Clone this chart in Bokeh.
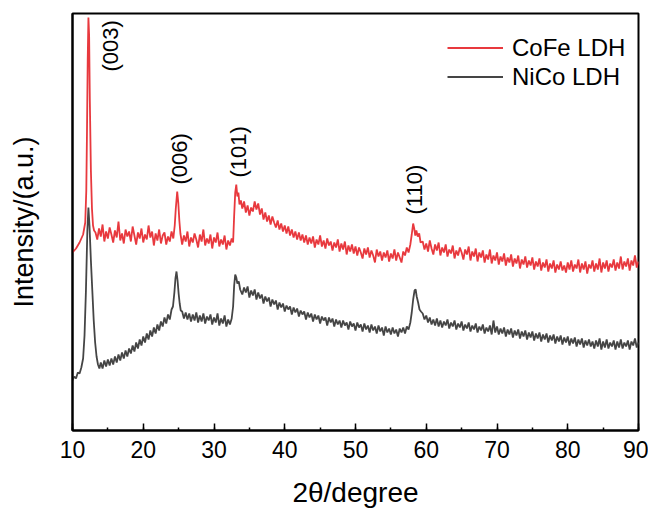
import math
from bokeh.plotting import figure
from bokeh.models import Range1d, SingleIntervalTicker, Legend, LegendItem, FixedTicker
from bokeh.core.properties import value
from bokeh.embed import file_html
from bokeh.resources import INLINE

FONT = "Liberation Sans"

# ---------------- data: 2theta (degree) and intensity (a.u.) ----------------
# CoFe LDH
cofe_x_a = [10.0, 10.5, 11.0, 11.5, 11.8, 11.95, 12.05, 12.15, 12.25, 12.35, 12.45, 12.6, 12.75, 12.9, 13.05]
cofe_y_a = [178, 182, 188, 196, 208, 240, 300, 370, 413, 395, 330, 260, 222, 205, 200]

cofe_x_b = [13.25, 13.5, 13.75, 14.0, 14.25, 14.5, 14.75, 15.0,
            15.25, 15.5, 15.75, 16.0, 16.25, 16.5, 16.75, 17.0,
            17.25, 17.5, 17.75, 18.0, 18.25, 18.5, 18.75, 19.0,
            19.25, 19.5, 19.75, 20.0, 20.25, 20.5, 20.75, 21.0,
            21.25, 21.5, 21.75, 22.0, 22.25, 22.5, 22.75, 23.0,
            23.25, 23.5, 23.75, 24.0, 24.25]
cofe_y_b = [198, 191, 202, 194, 206, 189, 199, 192,
            203, 196, 188, 200, 193, 209, 190, 197,
            187, 201, 194, 199, 189, 204, 195, 186,
            198, 192, 202, 188, 196, 191, 205, 193,
            199, 185, 197, 190, 201, 187, 195, 198,
            186, 194, 189, 199, 192]

cofe_x_c = [24.45, 24.6, 24.8, 24.95, 25.1, 25.25]
cofe_y_c = [205, 222, 239, 228, 210, 197]

cofe_x_d = [25.5, 25.75, 26.0, 26.25, 26.5, 26.75, 27.0, 27.25,
            27.5, 27.75, 28.0, 28.25, 28.5, 28.75, 29.0, 29.25,
            29.5, 29.75, 30.0, 30.25, 30.5, 30.75, 31.0, 31.25,
            31.5, 31.75, 32.0, 32.25, 32.5]
cofe_y_d = [186, 195, 189, 199, 184, 193, 188, 197,
            191, 183, 196, 189, 201, 185, 192, 187,
            196, 182, 193, 188, 198, 184, 191, 186,
            195, 181, 190, 185, 192]

cofe_x_e = [32.7, 32.85, 33.0, 33.15, 33.3, 33.45, 33.6, 33.8]
cofe_y_e = [188, 215, 238, 246, 234, 238, 226, 230]

cofe_x_f = [34.0, 34.25, 34.5, 34.75, 35.0, 35.25, 35.5, 35.75,
            36.0, 36.25, 36.5, 36.75, 37.0, 37.25, 37.5, 37.75,
            38.0, 38.25, 38.5, 38.75, 39.0, 39.25, 39.5, 39.75,
            40.0, 40.25, 40.5, 40.75, 41.0, 41.25, 41.5, 41.75,
            42.0, 42.25, 42.5, 42.75, 43.0, 43.25, 43.5, 43.75,
            44.0, 44.25, 44.5, 44.75, 45.0, 45.25, 45.5, 45.75,
            46.0, 46.25, 46.5, 46.75, 47.0, 47.25, 47.5, 47.75,
            48.0, 48.25, 48.5, 48.75, 49.0, 49.25, 49.5, 49.75,
            50.0, 50.25, 50.5, 50.75, 51.0, 51.25, 51.5, 51.75,
            52.0, 52.25, 52.5, 52.75, 53.0, 53.25, 53.5, 53.75,
            54.0, 54.25, 54.5, 54.75, 55.0, 55.25, 55.5, 55.75,
            56.0, 56.25, 56.5, 56.75, 57.0, 57.25, 57.5]
cofe_y_f = [222, 229, 218, 225, 215, 223, 219, 229,
            221, 227, 216, 222, 211, 218, 209, 215,
            206, 214, 208, 203, 210, 201, 207, 199,
            205, 197, 204, 195, 201, 193, 199, 191,
            198, 190, 196, 188, 195, 186, 193, 187,
            194, 183, 191, 186, 195, 184, 190, 182,
            192, 185, 189, 180, 188, 183, 191, 179,
            187, 181, 189, 176, 185, 179, 186, 177,
            184, 175, 183, 178, 172, 182, 176, 183,
            173, 180, 175, 168, 181, 174, 179, 170,
            178, 173, 180, 169, 177, 172, 181, 170,
            178, 173, 168, 179, 175, 183, 178]

cofe_x_g = [57.75, 57.95, 58.15, 58.3, 58.45, 58.6, 58.8, 59.0, 59.2]
cofe_y_g = [186, 196, 207, 202, 195, 200, 194, 197, 188]

cofe_x_h = [59.5, 59.75, 60.0, 60.25, 60.5, 60.75, 61.0, 61.25,
            61.5, 61.75, 62.0, 62.25, 62.5, 62.75, 63.0, 63.25,
            63.5, 63.75, 64.0, 64.25, 64.5, 64.75, 65.0, 65.25,
            65.5, 65.75, 66.0, 66.25, 66.5, 66.75, 67.0, 67.25,
            67.5, 67.75, 68.0, 68.25, 68.5, 68.75, 69.0, 69.25,
            69.5, 69.75, 70.0, 70.25, 70.5, 70.75, 71.0, 71.25,
            71.5, 71.75, 72.0, 72.25, 72.5, 72.75, 73.0, 73.25,
            73.5, 73.75, 74.0, 74.25, 74.5, 74.75, 75.0, 75.25,
            75.5, 75.75, 76.0, 76.25, 76.5, 76.75, 77.0, 77.25,
            77.5, 77.75, 78.0, 78.25, 78.5, 78.75, 79.0, 79.25,
            79.5, 79.75, 80.0, 80.25, 80.5, 80.75, 81.0, 81.25,
            81.5, 81.75, 82.0, 82.25, 82.5, 82.75, 83.0, 83.25,
            83.5, 83.75, 84.0, 84.25, 84.5, 84.75, 85.0, 85.25,
            85.5, 85.75, 86.0, 86.25, 86.5, 86.75, 87.0, 87.25,
            87.5, 87.75, 88.0, 88.25, 88.5, 88.75, 89.0, 89.25,
            89.5, 89.75, 90.0]
cofe_y_h = [189, 181, 187, 179, 190, 182, 176, 186,
            180, 188, 175, 183, 178, 186, 174, 181,
            177, 185, 172, 180, 175, 183, 178, 171,
            181, 176, 184, 170, 179, 174, 182, 169,
            178, 173, 180, 168, 176, 171, 181, 167,
            175, 170, 178, 166, 174, 169, 177, 165,
            173, 168, 176, 164, 172, 167, 175, 162,
            171, 166, 174, 163, 170, 165, 173, 161,
            169, 164, 172, 160, 168, 163, 171, 159,
            167, 162, 170, 158, 166, 161, 169, 160,
            165, 158, 168, 161, 170, 159, 166, 162,
            171, 158, 167, 161, 169, 157, 166, 162,
            170, 159, 167, 161, 172, 158, 168, 162,
            170, 159, 167, 163, 171, 160, 168, 162,
            174, 161, 169, 164, 172, 160, 170, 165,
            175, 163, 169]

# NiCo LDH
nico_x_a = [10.0, 10.25, 10.5, 10.75, 11.0, 11.25, 11.5, 11.7, 11.9, 12.1, 12.25, 12.4,
            12.6, 12.8, 13.0, 13.2, 13.4, 13.6, 13.8]
nico_y_a = [50, 54, 52, 58, 57, 63, 72, 95, 140, 200, 223, 205,
            170, 140, 110, 88, 74, 66, 62]

nico_x_b = [14.0, 14.25, 14.5, 14.75, 15.0, 15.25, 15.5, 15.75,
            16.0, 16.25, 16.5, 16.75, 17.0, 17.25, 17.5, 17.75,
            18.0, 18.25, 18.5, 18.75, 19.0, 19.25, 19.5, 19.75,
            20.0, 20.25, 20.5, 20.75, 21.0, 21.25, 21.5, 21.75,
            22.0, 22.25, 22.5, 22.75, 23.0, 23.25, 23.5, 23.75,
            24.0]
nico_y_b = [68, 62, 70, 64, 71, 65, 72, 66,
            74, 68, 76, 70, 78, 72, 80, 74,
            82, 77, 85, 79, 88, 82, 91, 85,
            94, 88, 97, 91, 100, 94, 103, 97,
            106, 100, 109, 104, 113, 107, 116, 111,
            121]

nico_x_c = [24.2, 24.4, 24.55, 24.7, 24.85, 25.0, 25.15, 25.3]
nico_y_c = [124, 138, 152, 159, 150, 137, 127, 120]

nico_x_d = [25.5, 25.75, 26.0, 26.25, 26.5, 26.75, 27.0, 27.25,
            27.5, 27.75, 28.0, 28.25, 28.5, 28.75, 29.0, 29.25,
            29.5, 29.75, 30.0, 30.25, 30.5, 30.75, 31.0, 31.25,
            31.5, 31.75, 32.0, 32.25, 32.5]
nico_y_d = [119, 112, 118, 111, 117, 109, 116, 110,
            118, 108, 115, 109, 117, 107, 114, 110,
            116, 106, 113, 108, 117, 105, 112, 107,
            115, 104, 111, 106, 112]

nico_x_e = [32.7, 32.85, 33.0, 33.15, 33.3, 33.5, 33.7]
nico_y_e = [124, 145, 156, 153, 147, 149, 141]

nico_x_f = cofe_x_f  # same scan positions, 34.0 ... 57.5
nico_y_f = [136, 143, 138, 144, 133, 140, 135, 141,
            131, 138, 132, 136, 127, 134, 129, 133,
            124, 131, 126, 130, 121, 128, 123, 127,
            119, 125, 121, 124, 116, 123, 118, 122,
            114, 120, 116, 119, 111, 118, 113, 117,
            109, 116, 111, 115, 107, 114, 110, 113,
            105, 113, 108, 112, 104, 111, 106, 110,
            103, 110, 105, 108, 101, 109, 104, 107,
            100, 108, 103, 106, 99, 107, 101, 105,
            98, 106, 100, 104, 97, 105, 99, 103,
            95, 104, 98, 102, 96, 103, 97, 101,
            94, 102, 98, 103, 97, 104, 101]

nico_x_g = [57.75, 57.95, 58.15, 58.35, 58.5, 58.65, 58.85, 59.05, 59.25]
nico_y_g = [108, 118, 131, 140, 141, 134, 128, 121, 119]

nico_x_h = cofe_x_h  # same scan positions, 59.5 ... 90.0
nico_y_h = [117, 111, 115, 108, 113, 106, 111, 105,
            112, 104, 110, 103, 109, 105, 111, 102,
            108, 104, 110, 101, 107, 103, 109, 100,
            106, 102, 108, 99, 105, 101, 107, 98,
            104, 100, 106, 97, 103, 99, 105, 96,
            110, 98, 104, 96, 102, 97, 103, 94,
            101, 96, 102, 93, 100, 95, 101, 92,
            99, 94, 100, 91, 98, 93, 99, 90,
            97, 92, 98, 89, 96, 91, 97, 88,
            95, 90, 96, 87, 94, 89, 95, 86,
            93, 88, 94, 85, 92, 87, 93, 84,
            91, 86, 92, 83, 90, 85, 91, 84,
            89, 82, 90, 84, 92, 81, 89, 83,
            91, 82, 88, 84, 90, 81, 89, 83,
            91, 82, 88, 84, 90, 81, 89, 85,
            92, 83, 88]

series_names = ["CoFe LDH", "NiCo LDH"]
series_colors = ["#e8393e", "#454545"]

peak_labels = ["(003)", "(006)", "(101)", "(110)"]
peak_label_x = [15.4, 25.15, 33.5, 58.3]
peak_label_y = [359, 246, 253, 216]

# ---------------- assemble ----------------
cofe_x = cofe_x_a + cofe_x_b + cofe_x_c + cofe_x_d + cofe_x_e + cofe_x_f + cofe_x_g + cofe_x_h
cofe_y = cofe_y_a + cofe_y_b + cofe_y_c + cofe_y_d + cofe_y_e + cofe_y_f + cofe_y_g + cofe_y_h
nico_x = nico_x_a + nico_x_b + nico_x_c + nico_x_d + nico_x_e + nico_x_f + nico_x_g + nico_x_h
nico_y = nico_y_a + nico_y_b + nico_y_c + nico_y_d + nico_y_e + nico_y_f + nico_y_g + nico_y_h
assert len(cofe_x) == len(cofe_y), (len(cofe_x), len(cofe_y))
assert len(nico_x) == len(nico_y), (len(nico_x), len(nico_y))

p = figure(frame_width=566, frame_height=417, output_backend="svg", toolbar_location=None,
           x_range=Range1d(10, 90), y_range=Range1d(0, 417),
           min_border_left=72, min_border_right=10, min_border_top=13, min_border_bottom=70)

p.background_fill_color = "white"
p.border_fill_color = "white"
p.outline_line_color = "black"
p.outline_line_width = 2
p.xgrid.visible = False
p.ygrid.visible = False

r1 = p.line(cofe_x, cofe_y, line_color=series_colors[0], line_width=1.8)
r2 = p.line(nico_x, nico_y, line_color=series_colors[1], line_width=1.8)

p.text(x=peak_label_x, y=peak_label_y, text=peak_labels, angle=math.pi / 2,
       text_align="left", text_baseline="middle", text_font=value(FONT),
       text_font_size="22px", text_color="black")

xa = p.xaxis[0]
xa.ticker = SingleIntervalTicker(interval=10, num_minor_ticks=2)
xa.axis_line_color = "black"
xa.axis_line_width = 2
xa.major_tick_in = 7
xa.major_tick_out = 0
xa.major_tick_line_width = 1.5
xa.minor_tick_in = 3
xa.minor_tick_out = 0
xa.minor_tick_line_width = 1.5
xa.major_label_text_font = FONT
xa.major_label_text_font_size = "23px"
xa.major_label_text_color = "black"
xa.major_label_standoff = 10
xa.axis_label = "2θ/degree"
xa.axis_label_text_font = FONT
xa.axis_label_text_font_size = "28px"
xa.axis_label_text_font_style = "normal"
xa.axis_label_text_color = "black"
xa.axis_label_standoff = 16

ya = p.yaxis[0]
ya.ticker = FixedTicker(ticks=[])
ya.axis_line_color = "black"
ya.axis_line_width = 2
ya.major_label_text_font_size = "0px"
ya.axis_label = "Intensity/(a.u.)"
ya.axis_label_text_font = FONT
ya.axis_label_text_font_size = "27px"
ya.axis_label_text_font_style = "normal"
ya.axis_label_text_color = "black"
ya.axis_label_standoff = 34

legend = Legend(items=[LegendItem(label=series_names[0], renderers=[r1]),
                       LegendItem(label=series_names[1], renderers=[r2])],
                location=(375, 339))
legend.glyph_width = 56
legend.glyph_height = 29
legend.label_height = 29
legend.label_standoff = 9
legend.spacing = 0
legend.padding = 0
legend.margin = 0
legend.border_line_color = None
legend.background_fill_alpha = 0
legend.label_text_font = FONT
legend.label_text_font_size = "24px"
legend.label_text_color = "black"
p.add_layout(legend)

open("out.html", "w").write(file_html(p, INLINE))
